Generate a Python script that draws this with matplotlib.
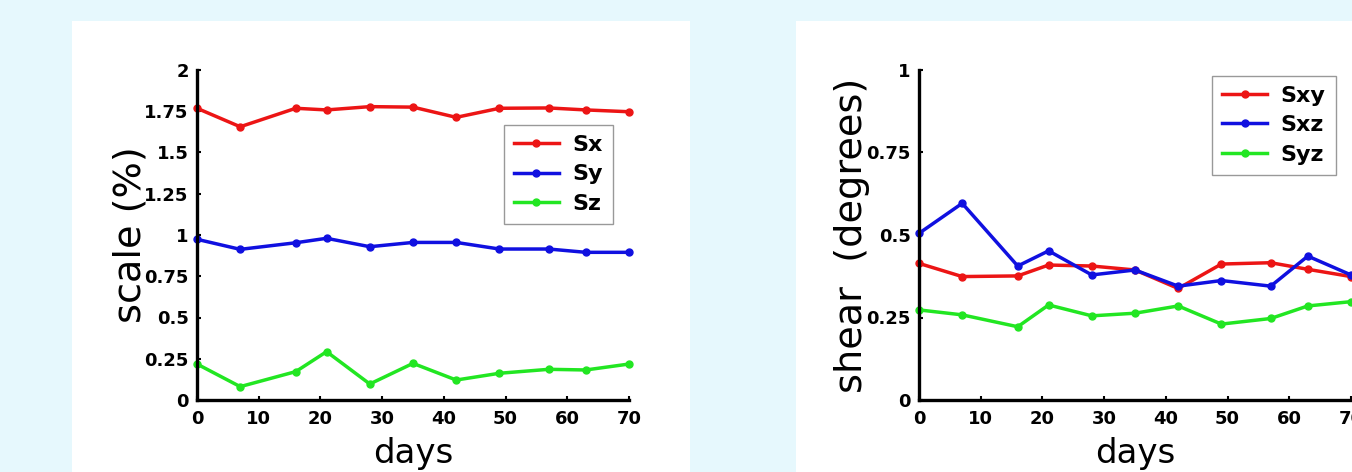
import matplotlib
matplotlib.use("Agg")
import matplotlib.pyplot as plt
from matplotlib.patches import Rectangle

# days of each measurement
days = [0, 7, 16, 21, 28, 35, 42, 49, 57, 63, 70]

# scale (%)
sx = [1.768, 1.656, 1.768, 1.758, 1.778, 1.775, 1.713, 1.768, 1.77, 1.758, 1.747]
sy = [0.974, 0.913, 0.953, 0.98, 0.929, 0.955, 0.955, 0.915, 0.915, 0.895, 0.895]
sz = [0.218, 0.081, 0.172, 0.293, 0.097, 0.222, 0.121, 0.162, 0.186, 0.182, 0.218]

# shear (degrees)
sxy = [0.414, 0.374, 0.376, 0.409, 0.406, 0.394, 0.338, 0.412, 0.416, 0.396, 0.374]
sxz = [0.505, 0.596, 0.406, 0.452, 0.379, 0.394, 0.345, 0.362, 0.345, 0.436, 0.379]
syz = [0.273, 0.258, 0.222, 0.288, 0.255, 0.263, 0.285, 0.230, 0.247, 0.285, 0.298]

x_ticks = [0, 10, 20, 30, 40, 50, 60, 70]
scale_ticks = [0, 0.25, 0.5, 0.75, 1, 1.25, 1.5, 1.75, 2]
scale_labels = ["0", "0.25", "0.5", "0.75", "1", "1.25", "1.5", "1.75", "2"]
shear_ticks = [0, 0.25, 0.5, 0.75, 1]
shear_labels = ["0", "0.25", "0.5", "0.75", "1"]

RED = "#ec1515"
BLUE = "#1010e0"
GREEN = "#22e622"
BG = "#e6f8fd"

W, H = 1352, 472
fig = plt.figure(figsize=(W / 100, H / 100), dpi=100, facecolor=BG)

# white panels behind each plot (drawn under the axes)
for x0, x1 in [(72, 690), (796, 1352)]:
    fig.add_artist(Rectangle((x0 / W, 0), (x1 - x0) / W, (H - 21) / H,
                             transform=fig.transFigure, facecolor="white",
                             edgecolor="none", zorder=-5))


def panel(left_px, series, names, yticks, ylabels, ylabel, ylabel_x, legend_x):
    ax = fig.add_axes([left_px / W, (H - 400) / H, 432 / W, 330 / H])
    ax.set_facecolor("none")
    for vals, name, c in zip(series, names, [RED, BLUE, GREEN]):
        ax.plot(days, vals, color=c, lw=2.5, marker="o", ms=5, label=name,
                clip_on=False)
    ax.set_xlim(0, 70)
    ax.set_ylim(yticks[0], yticks[-1])
    ax.set_xticks(x_ticks)
    ax.set_yticks(yticks)
    ax.set_yticklabels(ylabels)
    for s in ["top", "right"]:
        ax.spines[s].set_visible(False)
    for s in ["left", "bottom"]:
        ax.spines[s].set_linewidth(2.4)
    ax.tick_params(direction="in", length=3, width=1.5, labelsize=13)
    ax.tick_params(axis="x", pad=7.5)
    ax.tick_params(axis="y", pad=6)
    for lab in ax.get_xticklabels() + ax.get_yticklabels():
        lab.set_fontweight("bold")

    ax.set_xlabel("days", fontsize=24.5)
    ax.xaxis.set_label_coords(0.5, (400 - 454) / 330)
    ax.xaxis.label.set_va("center")
    ax.set_ylabel(ylabel, fontsize=27.5, va="center")
    ax.yaxis.set_label_coords((ylabel_x - left_px) / 432, 0.5)

    leg = ax.legend(loc="upper left", bbox_to_anchor=legend_x, borderaxespad=0,
                    fancybox=False, framealpha=1, edgecolor="#999999",
                    prop={"size": 16, "weight": "bold"}, handlelength=2.05,
                    handletextpad=0.6, labelspacing=0.42, borderpad=0.45)
    leg.get_frame().set_linewidth(1.0)
    return ax


panel(197, [sx, sy, sz], ["Sx", "Sy", "Sz"], scale_ticks, scale_labels,
      "scale (%)", 130, (0.71, 0.833))
panel(919, [sxy, sxz, syz], ["Sxy", "Sxz", "Syz"], shear_ticks, shear_labels,
      "shear  (degrees)", 852, (0.678, 0.982))

fig.savefig("out.png", dpi=100, facecolor=BG)
